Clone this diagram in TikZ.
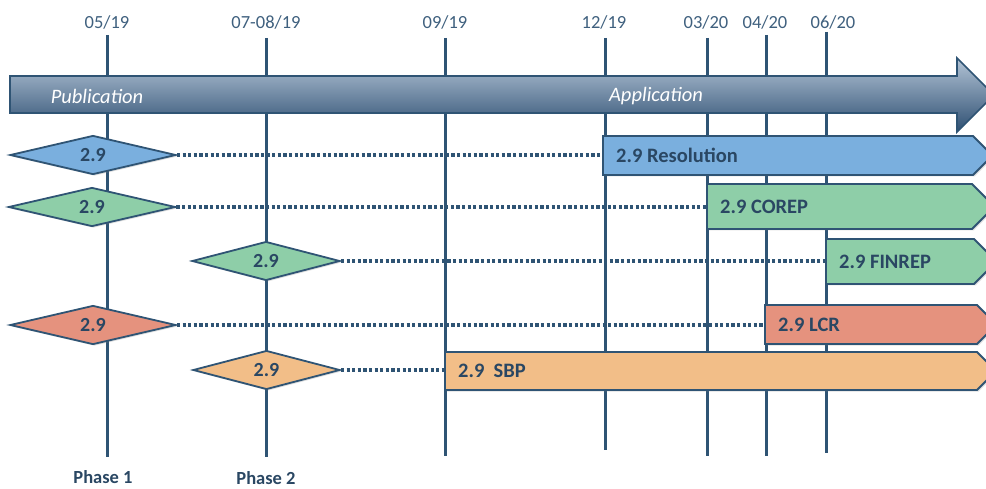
\documentclass[tikz,border=0pt]{standalone}
\usepackage{fontspec}
\setmainfont{Carlito}
\usetikzlibrary{shapes.geometric,shadows}
\definecolor{linec}{HTML}{2F5474}
\definecolor{labc}{HTML}{3F607E}
\definecolor{txtc}{HTML}{2A4763}
\definecolor{bluef}{HTML}{7AAFDE}
\definecolor{greenf}{HTML}{8ECEA8}
\definecolor{redf}{HTML}{E5927E}
\definecolor{orangef}{HTML}{F2BE88}
\definecolor{arrtop}{HTML}{B3C4D6}
\definecolor{arrbot}{HTML}{2E4F72}
\tikzset{
  datelab/.style={text=labc, font=\fontsize{18.5}{20}\selectfont, inner sep=0pt},
  phaselab/.style={text=txtc, font=\fontsize{18.5}{20}\selectfont\bfseries, inner sep=0pt},
  vline/.style={draw=linec, line width=3pt},
  milestone/.style={diamond, draw=linec, line width=1.8pt, inner sep=0pt, text=txtc,
    font=\fontsize{20}{22}\selectfont\bfseries,
    drop shadow={shadow xshift=1.5pt, shadow yshift=-1.5pt, opacity=0.25}},
  barshape/.style={draw=linec, line width=1.8pt,
    drop shadow={shadow xshift=1.5pt, shadow yshift=-1.5pt, opacity=0.25}},
  bartext/.style={anchor=west, inner xsep=13pt, inner ysep=0pt, text=txtc,
    font=\fontsize{20.5}{22}\selectfont\bfseries},
  dots/.style={draw=linec, line width=3.4pt, dash pattern=on 3.2pt off 2.4pt},
  bigarrow/.style={draw=linec, line width=1.6pt, top color=arrtop, bottom color=arrbot},
  arrtext/.style={text=white, font=\fontsize{20.5}{22}\selectfont\itshape, inner sep=0pt}
}
\begin{document}
\begin{tikzpicture}[x=1pt,y=-1pt]
\useasboundingbox (0,0) rectangle (986,489);
\clip (0,0) rectangle (986,489);
% date labels
\node[datelab] (l1) at (107,22) {05/19};
\node[datelab] (l2) at (266,22) {07-08/19};
\node[datelab] (l3) at (445,22) {09/19};
\node[datelab] (l4) at (604,22) {12/19};
\node[datelab] (l5) at (706,22) {03/20};
\node[datelab] (l6) at (765,22) {04/20};
\node[datelab] (l7) at (833,22) {06/20};
% vertical lines
\draw[vline] (107,35) -- (107,457);
\draw[vline] (266,38) -- (266,457);
\draw[vline] (445,38) -- (445,456);
\draw[vline] (605,38) -- (605,450);
\draw[vline] (707,38) -- (707,456);
\draw[vline] (766,35) -- (766,456);
\draw[vline] (826,32) -- (826,453);
% big arrow
\draw[bigarrow] (10,76) -- (957,76) -- (957,58) -- (994,95) -- (957,132) -- (957,113) -- (10,113) -- cycle;
\node[arrtext] (pub) at (97,96) {Publication};
\node[arrtext] (app) at (656,96) {Application};
% milestones
\node[milestone, fill=bluef, minimum width=166pt, minimum height=39pt] (d1) at (93,155) {2.9};
\node[milestone, fill=greenf, minimum width=167pt, minimum height=39pt] (d2) at (92,207) {2.9};
\node[milestone, fill=greenf, minimum width=148pt, minimum height=38pt] (d3) at (266,261) {2.9};
\node[milestone, fill=redf, minimum width=166pt, minimum height=39pt] (d4) at (93,325) {2.9};
\node[milestone, fill=orangef, minimum width=147pt, minimum height=37pt] (d5) at (266.5,370) {2.9};
% bars
\draw[barshape, fill=bluef] (603,136) -- (973,136) -- (992.5,155.5) -- (973,175) -- (603,175) -- cycle;
\draw[barshape, fill=greenf] (707,184) -- (972,184) -- (994.5,206.5) -- (972,229) -- (707,229) -- cycle;
\draw[barshape, fill=greenf] (826,239) -- (974,239) -- (996.5,261.5) -- (974,284) -- (826,284) -- cycle;
\draw[barshape, fill=redf] (765,305) -- (977,305) -- (996.5,324.5) -- (977,344) -- (765,344) -- cycle;
\draw[barshape, fill=orangef] (445,352) -- (977,352) -- (996,371) -- (977,390) -- (445,390) -- cycle;
\node[bartext] (b1) at (603,155.5) {2.9 Resolution};
\node[bartext] (b2) at (707,206.5) {2.9 COREP};
\node[bartext] (b3) at (826,261.5) {2.9 FINREP};
\node[bartext] (b4) at (765,324.5) {2.9 LCR};
\node[bartext] (b5) at (445,371) {2.9\ \ SBP};
% dotted connectors
\draw[dots] (d1.east) -- (b1.west |- d1.east);
\draw[dots] (d2.east) -- (b2.west |- d2.east);
\draw[dots] (d3.east) -- (b3.west |- d3.east);
\draw[dots] (d4.east) -- (b4.west |- d4.east);
\draw[dots] (d5.east) -- (b5.west |- d5.east);
% phases
\node[phaselab] (p1) at (103,477) {Phase 1};
\node[phaselab] (p2) at (266,478) {Phase 2};
\end{tikzpicture}
\end{document}
